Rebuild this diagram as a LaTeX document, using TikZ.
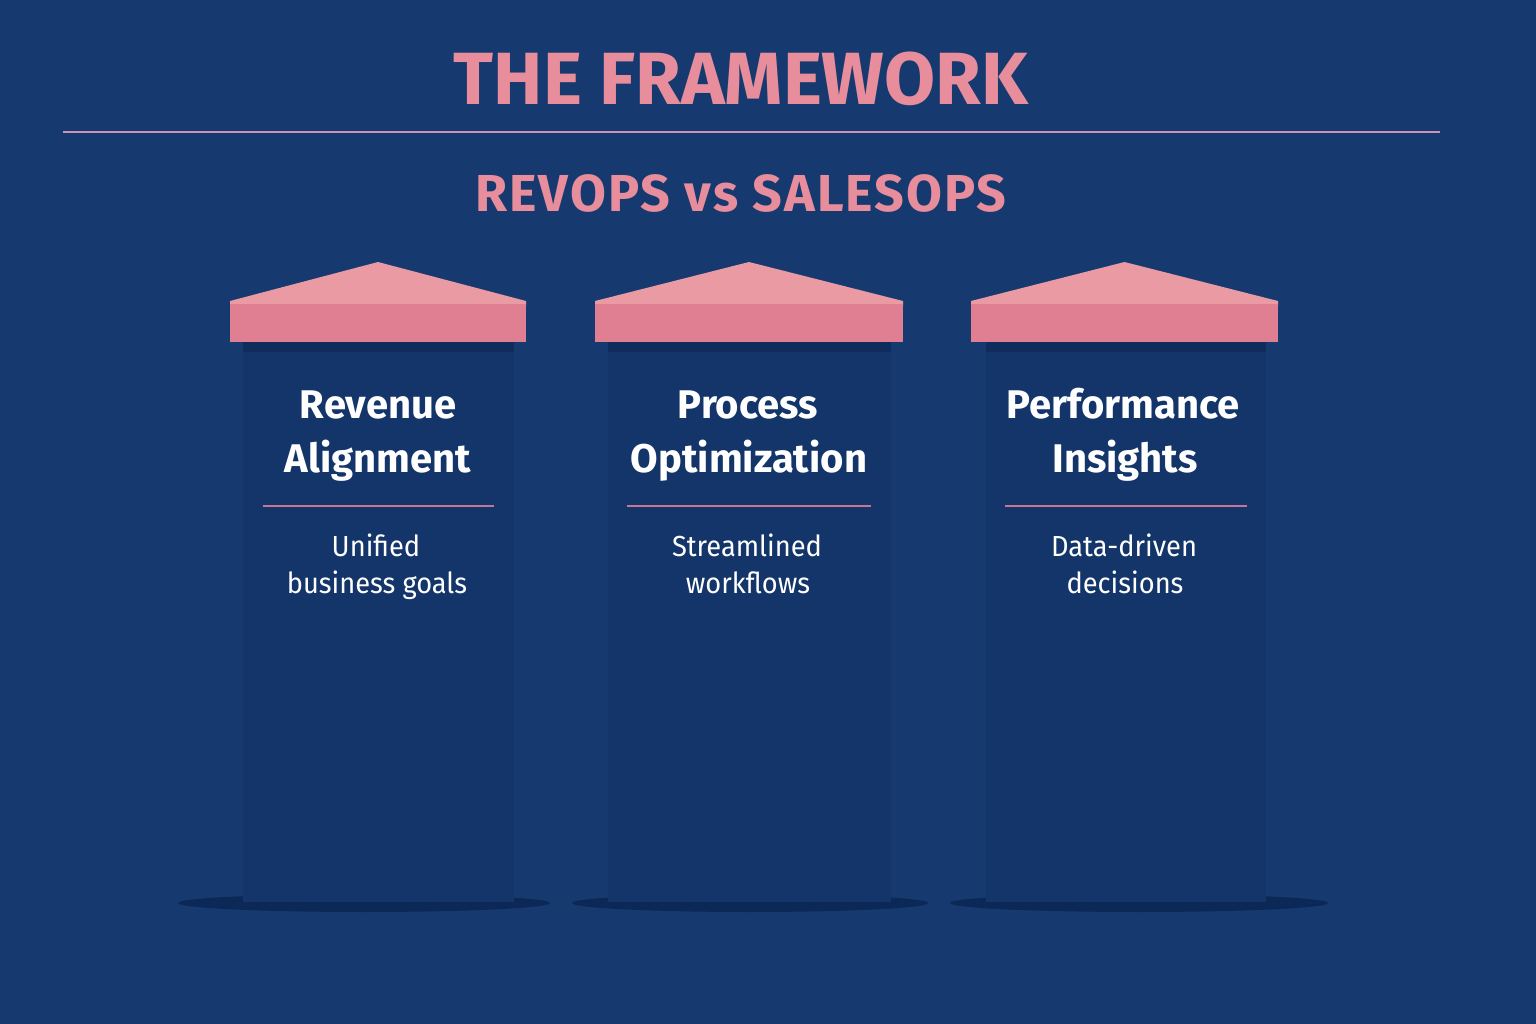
\documentclass[tikz,border=0pt]{standalone}
\usepackage{fontspec}
\newfontfamily\firab{Fira Sans}[BoldFont={Fira Sans Bold}]
\newfontfamily\firasp{Fira Sans}[BoldFont={Fira Sans Bold}, LetterSpace=4]
\newfontfamily\firan{Fira Sans}[FakeStretch=0.94]
\definecolor{bg}{HTML}{163A70}
\definecolor{body}{HTML}{13356A}
\definecolor{bodydark}{HTML}{0F2C5C}
\definecolor{shadowc}{HTML}{0C2857}
\definecolor{captop}{HTML}{E99AA3}
\definecolor{capband}{HTML}{E07F92}
\definecolor{titlepink}{HTML}{E78D9B}
\definecolor{rulec}{HTML}{C993B8}
\definecolor{sepc}{HTML}{C87595}
\begin{document}
\begin{tikzpicture}[x=1pt,y=-1pt,
  titlefont/.style={font=\firab\bfseries\fontsize{74}{80}\selectfont, text=titlepink, inner sep=0pt},
  subfont/.style={font=\firasp\bfseries\fontsize{52}{56}\selectfont, text=titlepink, inner sep=0pt},
  headfont/.style={font=\firab\bfseries\fontsize{40}{54}\selectfont, text=white, inner sep=0pt, anchor=base},
  descfont/.style={font=\firan\fontsize{29}{37}\selectfont, text=white, inner sep=0pt, anchor=base},
  sepline/.style={draw=sepc, line width=1.6pt},
]
\useasboundingbox (0,0) rectangle (1536,1024);
\fill[bg] (0,0) rectangle (1536,1024);

% titles
\node[titlefont, anchor=base] (title) at (741,105) {THE FRAMEWORK};
\coordinate (rl) at (63,132.5);
\coordinate (rr) at (1440,132.5);
\draw[rulec, line width=2pt] (rl) -- (rr);
\node[subfont, anchor=base] (subtitle) at (741,211.5) {REVOPS vs SALESOPS};

% pillars: capL/capR/bodyL/bodyR/shadowC/shadowRx/name
\foreach \cl/\cr/\bl/\br/\sc/\sx/\nm in {230/526/243/514/364/186/p1, 595/903/608/891/750/178/p2, 971/1278/986/1266/1139/189/p3}{
  \pgfmathsetmacro{\cm}{(\cl+\cr)/2}
  \fill[shadowc] (\sc,903) ellipse [x radius=\sx, y radius=9];
  \fill[body] (\bl,342) rectangle (\br,902);
  \fill[bodydark] (\bl,342) rectangle (\br,352);
  \fill[captop] (\cl,301) -- (\cm,262) -- (\cr,301) -- (\cr,306) -- (\cl,306) -- cycle;
  \fill[capband] (\cl,304) rectangle (\cr,342);
}

% pillar 1
\node[headfont] (h1a) at (378,418) {Revenue};
\node[headfont] (h1b) at (378,472) {Alignment};
\coordinate (s1l) at (263,506); \coordinate (s1r) at (494,506);
\draw[sepline] (s1l) -- (s1r);
\node[descfont] (d1a) at (376,556.5) {Unified};
\node[descfont] (d1b) at (377,593.5) {business goals};

% pillar 2
\node[headfont] (h2a) at (748,418) {Process};
\node[headfont] (h2b) at (749,472) {Optimization};
\coordinate (s2l) at (627,506); \coordinate (s2r) at (871,506);
\draw[sepline] (s2l) -- (s2r);
\node[descfont] (d2a) at (747,556.5) {Streamlined};
\node[descfont] (d2b) at (748,593.5) {workflows};

% pillar 3
\node[headfont] (h3a) at (1123,418) {Performance};
\node[headfont] (h3b) at (1125,472) {Insights};
\coordinate (s3l) at (1005,506); \coordinate (s3r) at (1247,506);
\draw[sepline] (s3l) -- (s3r);
\node[descfont] (d3a) at (1124,556.5) {Data-driven};
\node[descfont] (d3b) at (1125,593.5) {decisions};
\end{tikzpicture}
\end{document}
